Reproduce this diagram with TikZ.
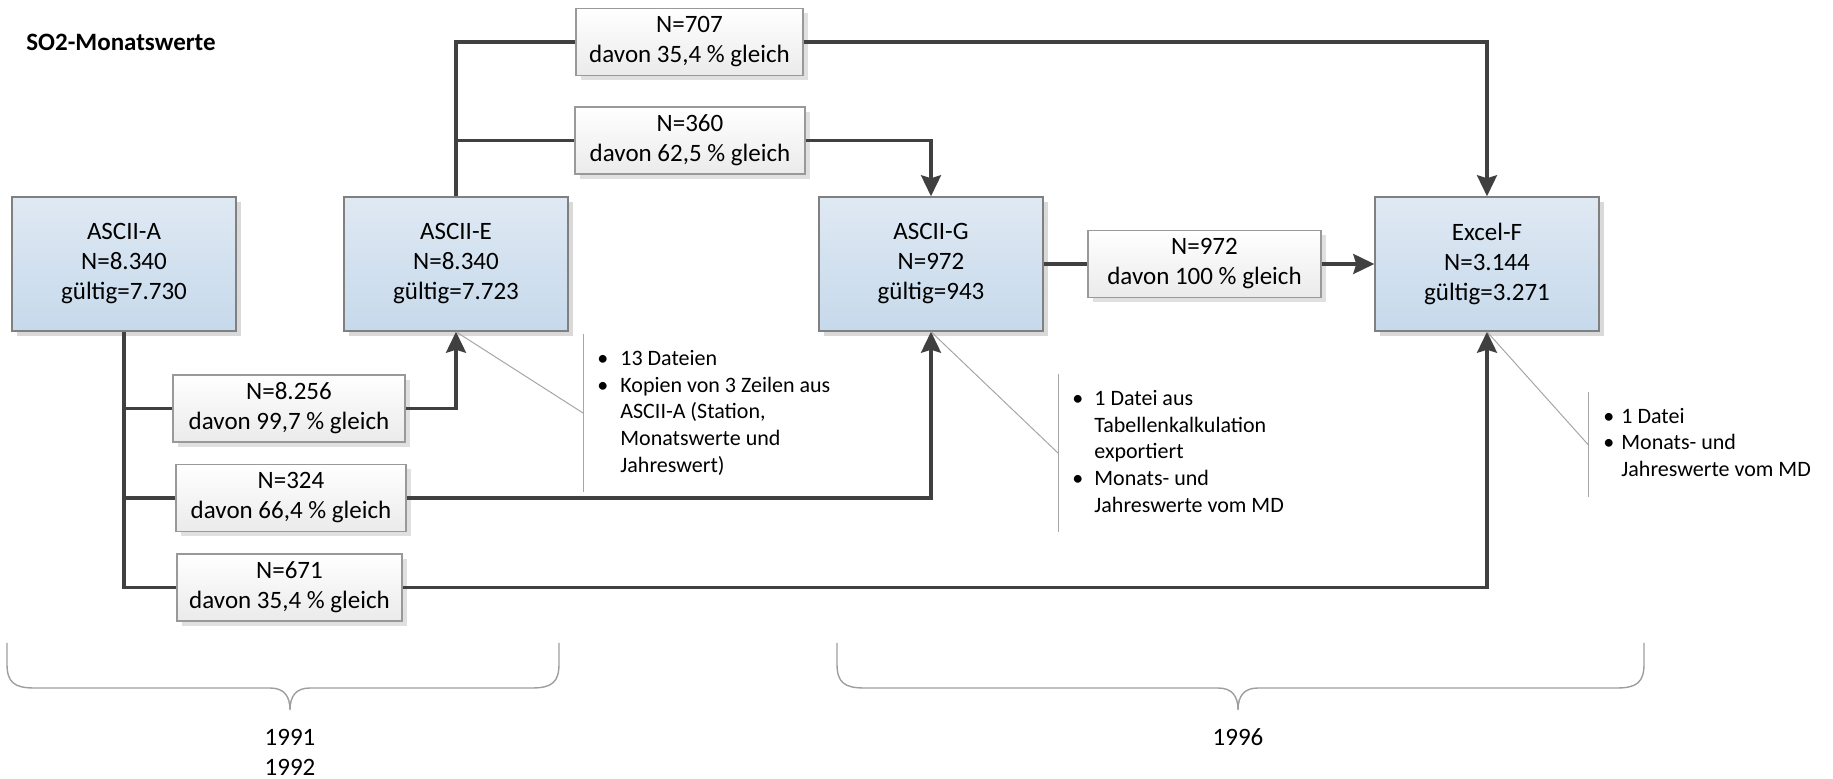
\documentclass[tikz,border=0pt]{standalone}
\usepackage{fontspec}
\setmainfont{Carlito}
\usetikzlibrary{arrows.meta,shadows}

\definecolor{boxtop}{HTML}{DFE9F3}
\definecolor{boxbot}{HTML}{C6D9EB}
\definecolor{linegray}{HTML}{404040}
\definecolor{framegray}{HTML}{808080}
\definecolor{thingray}{HTML}{A6A6A6}

\tikzset{
  datei/.style={draw=framegray,line width=.75pt,top color=boxtop,bottom color=boxbot,
    minimum width=112pt,minimum height=67pt,align=center,inner sep=0pt,
    font=\fontsize{12.5}{15}\selectfont,
    drop shadow={shadow xshift=2.5pt,shadow yshift=-2.5pt,fill=black!15,opacity=1}},
  anzahl/.style={draw=framegray!80,line width=.6pt,top color=white,bottom color=black!8,
    minimum width=115pt,minimum height=33.5pt,align=center,inner sep=0pt,
    font=\fontsize{12.5}{15}\selectfont,
    drop shadow={shadow xshift=2.5pt,shadow yshift=-2.5pt,fill=black!12,opacity=1}},
  fluss/.style={draw=linegray,line width=1.6pt},
  pfeil/.style={fluss,-{Stealth[length=10.5pt,width=10pt,inset=1.5pt]}},
  hinweis/.style={draw=thingray,line width=.5pt},
  notiz/.style={inner sep=0pt,anchor=west,font=\fontsize{11}{13.35}\selectfont},
  klammer/.style={draw=black!38,line width=.7pt}
}

\begin{document}
\begin{tikzpicture}[x=0.5pt,y=-0.5pt]
\useasboundingbox (0,0) rectangle (1833,779);

\node[anchor=west,inner sep=0pt,font=\fontsize{12.5}{15}\selectfont\bfseries] (titel) at (26,42) {SO2-Monatswerte};

% Dateien
\node[datei] (asciiA) at (124,264) {ASCII-A\\N=8.340\\gültig=7.730};
\node[datei] (asciiE) at (456,264) {ASCII-E\\N=8.340\\gültig=7.723};
\node[datei] (asciiG) at (931,264) {ASCII-G\\N=972\\gültig=943};
\node[datei] (excelF) at (1487,264) {Excel-F\\N=3.144\\gültig=3.271};

% Vergleiche
\node[anzahl,minimum width=113.5pt] (n707) at (689.5,42) {N=707\\davon 35,4 \% gleich};
\node[anzahl] (n360) at (690,140.5) {N=360\\davon 62,5 \% gleich};
\node[anzahl,minimum width=116.5pt] (n972) at (1204.5,264) {N=972\\davon 100 \% gleich};
\node[anzahl,minimum width=116pt] (n8256) at (289,408.5) {N=8.256\\davon 99,7 \% gleich};
\node[anzahl] (n324) at (291,498) {N=324\\davon 66,4 \% gleich};
\node[anzahl,minimum width=112.5pt] (n671) at (289.5,587.5) {N=671\\davon 35,4 \% gleich};

\draw[fluss] (asciiE.north) |- (n707.west);
\draw[fluss] (asciiE.north |- n360.west) -- (n360.west);
\draw[pfeil] (n707.east) -| (excelF.north);
\draw[pfeil] (n360.east) -| (asciiG.north);
\draw[fluss] (asciiG.east) -- (n972.west);
\draw[pfeil] (n972.east) -- (excelF.west);
\draw[fluss] (asciiA.south) |- (n671.west);
\draw[fluss] (asciiA.south |- n8256.west) -- (n8256.west);
\draw[fluss] (asciiA.south |- n324.west) -- (n324.west);
\draw[pfeil] (n8256.east) -| (asciiE.south);
\draw[pfeil] (n324.east) -| (asciiG.south);
\draw[pfeil] (n671.east) -| (excelF.south);

% Anmerkungen
\coordinate (knickE) at (583,413);
\coordinate (knickG) at (1058,453);
\coordinate (knickF) at (1588,444.5);
\draw[hinweis] (asciiE.south) -- (knickE);
\draw[hinweis] (knickE) ++(0,-79) -- ++(0,158);
\draw[hinweis] (asciiG.south) -- (knickG);
\draw[hinweis] (knickG) ++(0,-79) -- ++(0,158);
\draw[hinweis] (excelF.south) -- (knickF);
\draw[hinweis] (knickF) ++(0,-52.5) -- ++(0,105);

\node[notiz] (notizE) at (597,413.5) {\begin{tabular}{@{}p{11.5pt}@{}l@{}}
\textbullet & 13 Dateien\\
\textbullet & Kopien von 3 Zeilen aus\\
 & ASCII-A (Station,\\
 & Monatswerte und\\
 & Jahreswert)
\end{tabular}};
\node[notiz] (notizG) at (1072,453.5) {\begin{tabular}{@{}p{11pt}@{}l@{}}
\textbullet & 1 Datei aus\\
 & Tabellenkalkulation\\
 & exportiert\\
\textbullet & Monats- und\\
 & Jahreswerte vom MD
\end{tabular}};
\node[notiz] (notizF) at (1603,444.5) {\begin{tabular}{@{}p{9pt}@{}l@{}}
\textbullet & 1 Datei\\
\textbullet & Monats- und\\
 & Jahreswerte vom MD
\end{tabular}};

% Zeitraeume
\draw[klammer] (7,643) -- (7,664) .. controls (7,682) and (14,688) .. (34,688) -- (270,688)
  .. controls (284,688) and (290,696) .. (290,710) .. controls (290,696) and (296,688) .. (310,688)
  -- (532,688) .. controls (552,688) and (559,682) .. (559,664) -- (559,643);
\draw[klammer] (837,643) -- (837,664) .. controls (837,682) and (844,688) .. (864,688) -- (1218,688)
  .. controls (1232,688) and (1238,696) .. (1238,710) .. controls (1238,696) and (1244,688) .. (1258,688)
  -- (1617,688) .. controls (1637,688) and (1644,682) .. (1644,664) -- (1644,643);
\node[align=center,font=\fontsize{12.5}{15}\selectfont] (jahrA) at (290,752) {1991\\1992};
\node[font=\fontsize{12.5}{15}\selectfont] (jahrB) at (1238,737) {1996};
\end{tikzpicture}
\end{document}
